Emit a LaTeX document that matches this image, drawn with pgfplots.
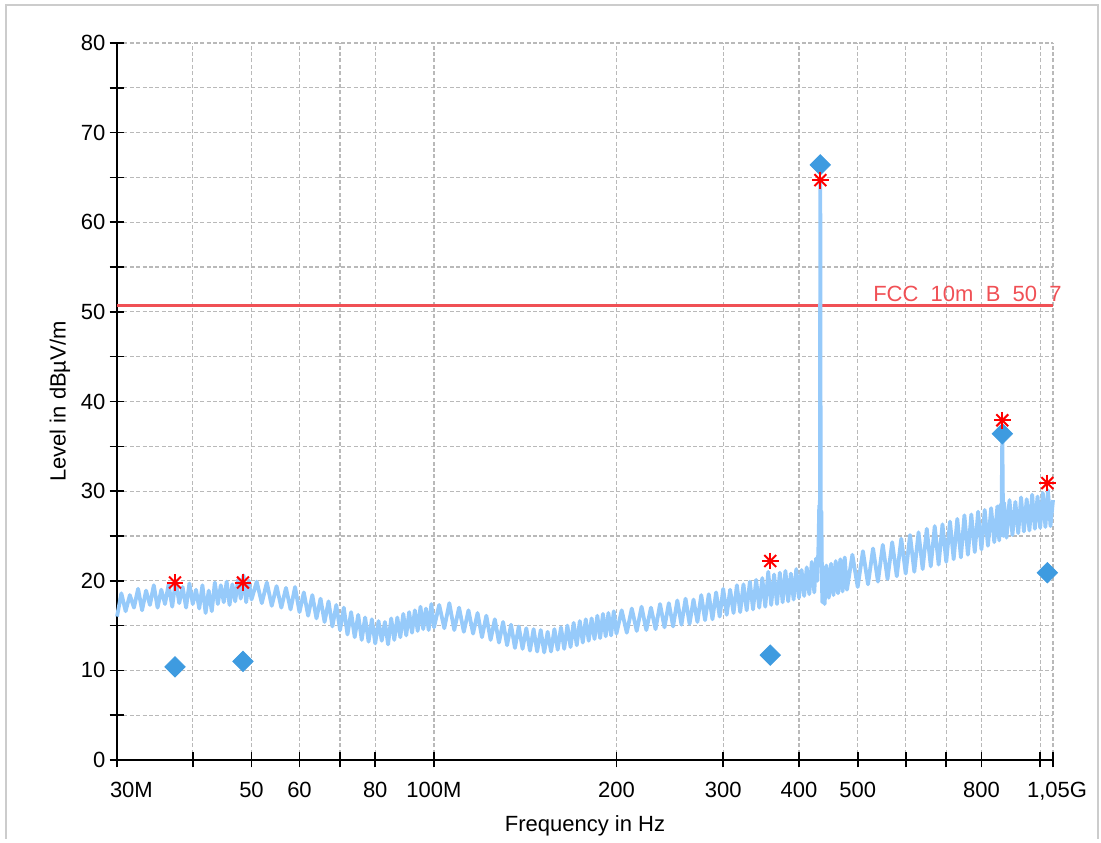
\documentclass[border=0pt]{standalone}
\usepackage{fontspec}
\setmainfont{Liberation Sans}
\usepackage{pgfplots}
\pgfplotsset{compat=1.18}

\definecolor{trace}{RGB}{150,202,250}
\definecolor{qpk}{RGB}{62,155,224}
\definecolor{limitred}{RGB}{240,80,85}
\definecolor{pkred}{RGB}{255,0,0}
\definecolor{gridgray}{RGB}{185,185,185}

\begin{document}
\begin{tikzpicture}
\begin{axis}[
  scale only axis, width=468pt, height=358.5pt,
  xmode=log, xmin=30, xmax=1050, ymin=0, ymax=80,
  axis lines=left, axis line style={-, line width=1pt},
  xtick={30,40,50,60,70,80,100,200,300,400,500,600,700,800,1000,1050},
  xticklabels={{\makebox[0pt][l]{\kern-3.5pt 30M}},,50,60,,80,100M,200,300,400,500,,,800,,{\makebox[0pt][l]{\kern-13pt 1,05G}}},
  ytick={0,10,...,80}, minor ytick={5,15,...,75},
  grid=both, grid style={gridgray, dash pattern=on 2pt off 1.2pt, line width=0.6pt},
  tick align=center, major tick length=7.5pt, minor tick length=7.5pt,
  tick style={black, line width=0.8pt},
  xlabel={Frequency in Hz}, ylabel={Level in dBµV/m},
  xlabel style={at={(axis description cs:0.5,-0.092)}, anchor=center},
  ylabel style={at={(axis description cs:-0.0609,0.5)}, anchor=center},
  tick label style={font=\fontsize{11}{13}\selectfont},
  xticklabel style={yshift=-4pt},
  yticklabel style={xshift=1.5pt},
  label style={font=\fontsize{11}{13}\selectfont},
  /pgf/number format/assume math mode=true,
  clip=false,
]
% limit line
\addplot[limitred, line width=1.7pt] coordinates {(30,50.7)(1050,50.7)};
\node[anchor=base east, text=limitred, inner sep=0pt, xshift=4.5pt, yshift=1.8pt,
  font=\fontsize{11}{13}\selectfont] at (axis cs:1050,50.7) {FCC\_10m\_B\_50\_7};

% measured trace
\addplot[trace, line width=1.9pt, line join=round] coordinates {
(30,16.0)(30.5,18.6)(31,16.6)(31.5,18.4)(32,17.0)(32.5,19.1)(33,16.7)(33.5,18.9)
(34,17.3)(34.5,19.5)(35,17.0)(35.5,19.0)(36,17.4)(36.5,19.6)(37,17.1)(37.5,20.0)
(38,17.5)(38.5,19.3)(39,17.0)(39.5,19.7)(40,17.4)(40.5,19.0)(41,16.9)(41.5,19.5)
(42,16.4)(42.5,18.9)(43,16.6)(43.5,19.8)(44,17.4)(44.5,19.5)(45,17.6)(45.5,19.9)
(46,17.3)(46.5,19.6)(47,17.7)(47.5,20.1)(48,18.0)(48.5,20.6)(49,17.6)(49.5,20.0)
(50,17.9)(51,19.9)(52,17.5)(53,19.8)(54,17.2)(55,19.4)(56,17.0)(57,19.2)
(58,16.8)(59,19.3)(60,16.5)(61,18.7)(62,16.1)(63,18.4)(64,15.8)(65,18.0)
(66,15.4)(67,17.7)(68,14.9)(69,17.3)(70,14.5)(71,17.0)(72,14.0)(73,16.5)
(74,13.7)(75,16.2)(76,13.4)(77,15.9)(78,13.2)(79,15.7)(80,13.0)(81,15.5)
(82,13.3)(83,15.4)(84,12.9)(85,15.8)(86,13.4)(87,15.9)(88,13.7)(89,16.3)
(90,13.9)(91,16.5)(92,14.2)(93,16.7)(94,14.4)(95,17.1)(96,14.6)(97,16.9)
(98,14.5)(99,17.4)(100,14.8)
(102,17.3)(104,14.7)(106,17.5)(108,14.5)(110,17.0)(112,14.3)(114,16.7)(116,14.1)
(118,16.4)(120,13.7)(122,16.1)(124,13.4)(126,15.7)(128,13.1)(130,15.4)(132,12.8)
(134,15.1)(136,12.5)(138,14.9)(140,12.4)(142,14.7)(144,12.2)(146,14.6)(148,12.1)
(150,14.5)(152,12.0)(154,14.3)(156,12.1)(158,14.6)(160,12.3)(162,14.8)(164,12.4)
(166,15.0)(168,12.6)(170,15.3)(172,12.8)(174,15.5)(176,13.1)(178,15.7)(180,13.3)
(182,15.8)(184,13.5)(186,16.1)(188,13.6)(190,16.3)(192,13.8)(194,16.4)(196,13.9)
(198,16.6)(200,14.1)
(204,16.7)(208,14.2)(212,16.9)(216,14.4)(220,17.1)(224,14.5)(228,17.0)(232,14.6)
(236,17.4)(240,14.8)(244,17.5)(248,14.9)(252,17.8)(256,15.1)(260,18.0)(264,15.2)
(268,17.9)(272,15.4)(276,18.4)(280,15.6)(284,18.5)(288,15.7)(292,18.7)(296,16.0)
(300,19.1)(304,16.2)(308,19.0)(312,16.4)(316,19.5)(320,16.5)(324,19.6)(328,16.7)
(332,19.9)(336,16.8)(340,20.1)(344,17.0)(348,20.3)(352,17.1)(356,21.0)(360,17.3)
(364,20.7)(368,17.4)(372,20.9)(376,17.6)(380,21.1)(384,17.7)(388,20.8)(392,17.9)
(396,21.3)(400,18.1)
(404,21.2)(408,18.3)(412,21.5)(416,18.5)(420,22.1)(424,18.7)(427,22.5)(429,20.0)
(431,24.5)(432,28.4)(433,22.0)(433.8,64.7)(434.6,23.0)(435.5,27.8)(437,17.6)(439,21.5)
(441,17.4)(444,21.7)(448,18.1)(452,21.9)(456,18.4)(460,22.2)(464,18.6)(468,22.4)
(472,18.8)(476,22.6)
(480,19.0)(490,22.9)(500,19.3)(510,23.3)(520,19.6)(530,23.6)(540,19.9)(550,24.0)
(560,20.2)(570,24.3)(580,20.5)(590,24.7)(600,20.8)(610,25.1)(620,21.0)(630,25.4)
(640,21.3)(650,25.8)(660,21.6)(670,26.1)(680,21.8)(690,26.3)(700,22.1)(710,26.6)
(720,22.4)(730,26.9)(740,22.6)(750,27.3)(760,22.9)(770,27.4)(780,23.2)(790,27.7)
(800,23.5)(810,27.9)(820,23.9)(830,28.1)(840,24.3)(850,28.3)(856,24.5)(860,28.5)
(863,25.5)(866,36.8)(869,25.0)(872,28.7)(880,24.8)(890,29.0)(900,25.1)(910,28.8)
(920,25.3)(930,29.3)(940,25.5)(950,29.1)(960,25.6)(970,29.6)(980,25.8)(990,29.4)
(1000,25.9)(1010,29.8)(1020,26.0)(1030,30.1)(1040,26.1)(1050,29.0)
};

% quasi-peak results
\addplot[only marks, mark=square*, mark size=3.6pt,
  mark options={rotate=45, fill=qpk, draw=qpk}] coordinates {
(37.4,10.4)(48.4,11.0)(358.8,11.7)(433.8,66.4)(866,36.4)(1027.5,20.9)};

% peak results
\addplot[only marks, mark=+, mark size=4.2pt, mark options={pkred, line width=1pt}]
  coordinates {(37.4,19.8)(48.4,19.8)(358.8,22.2)(433.8,64.7)(866,37.9)(1027.5,30.9)};
\addplot[only marks, mark=x, mark size=4.2pt, mark options={pkred, line width=1pt}]
  coordinates {(37.4,19.8)(48.4,19.8)(358.8,22.2)(433.8,64.7)(866,37.9)(1027.5,30.9)};

\coordinate (sw) at (rel axis cs:0,0);
\coordinate (ne) at (rel axis cs:1,1);
\end{axis}
\draw[gray!40, line width=1pt]
  ([shift={(-55.5pt,-39.5pt)}]sw) -- ([shift={(-55.5pt,19pt)}]sw |- ne)
  -- ([shift={(22.5pt,19pt)}]ne) -- ([shift={(22.5pt,0pt)}]ne |- sw) -- ++(0,-39.5pt);
\path[use as bounding box] ([shift={(-58.5pt,-39.5pt)}]sw) rectangle ([shift={(24pt,21.5pt)}]ne);
\end{tikzpicture}
\end{document}
